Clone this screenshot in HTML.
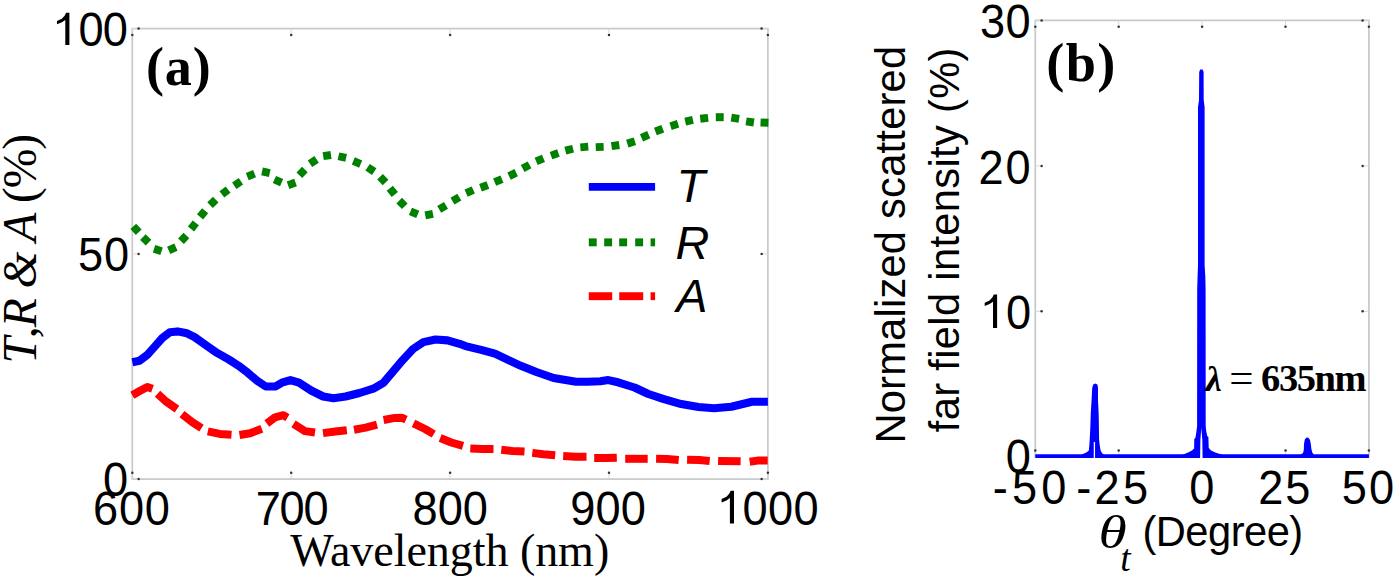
<!DOCTYPE html>
<html><head><meta charset="utf-8"><style>
html,body{margin:0;padding:0;background:#fff;width:1395px;height:579px;overflow:hidden}
svg{display:block}
</style></head><body>
<svg width="1395" height="579" viewBox="0 0 1395 579">
<rect x="132.3" y="28.6" width="635.6" height="450.5" fill="none" stroke="#c8c8c8" stroke-width="1.7"/>
<rect x="1035.3" y="20.4" width="333.6" height="436.4" fill="none" stroke="#c8c8c8" stroke-width="1.7"/>
<path d="M132.3,479.1v-6.3 M132.3,28.6v6.3 M291.2,479.1v-6.3 M291.2,28.6v6.3 M450.1,479.1v-6.3 M450.1,28.6v6.3 M609.0,479.1v-6.3 M609.0,28.6v6.3 M767.9,479.1v-6.3 M767.9,28.6v6.3 M132.3,479.1h6.3 M767.9,479.1h-6.3 M132.3,253.9h6.3 M767.9,253.9h-6.3 M132.3,28.6h6.3 M767.9,28.6h-6.3 M1035.3,456.8v-6.3 M1035.3,20.4v6.3 M1118.7,456.8v-6.3 M1118.7,20.4v6.3 M1202.1,456.8v-6.3 M1202.1,20.4v6.3 M1285.5,456.8v-6.3 M1285.5,20.4v6.3 M1368.9,456.8v-6.3 M1368.9,20.4v6.3 M1035.3,456.8h6.3 M1368.9,456.8h-6.3 M1035.3,311.3h6.3 M1368.9,311.3h-6.3 M1035.3,165.9h6.3 M1368.9,165.9h-6.3 M1035.3,20.4h6.3 M1368.9,20.4h-6.3" stroke="#d8d8d8" stroke-width="1" fill="none"/>
<g fill="#333"><circle cx="132.3" cy="472.8" r="1.25"/><circle cx="132.3" cy="34.9" r="1.25"/><circle cx="291.2" cy="472.8" r="1.25"/><circle cx="291.2" cy="34.9" r="1.25"/><circle cx="450.1" cy="472.8" r="1.25"/><circle cx="450.1" cy="34.9" r="1.25"/><circle cx="609.0" cy="472.8" r="1.25"/><circle cx="609.0" cy="34.9" r="1.25"/><circle cx="767.9" cy="472.8" r="1.25"/><circle cx="767.9" cy="34.9" r="1.25"/><circle cx="138.6" cy="479.1" r="1.25"/><circle cx="761.6" cy="479.1" r="1.25"/><circle cx="138.6" cy="253.9" r="1.25"/><circle cx="761.6" cy="253.9" r="1.25"/><circle cx="138.6" cy="28.6" r="1.25"/><circle cx="761.6" cy="28.6" r="1.25"/><circle cx="1035.3" cy="450.5" r="1.25"/><circle cx="1035.3" cy="26.7" r="1.25"/><circle cx="1118.7" cy="450.5" r="1.25"/><circle cx="1118.7" cy="26.7" r="1.25"/><circle cx="1202.1" cy="450.5" r="1.25"/><circle cx="1202.1" cy="26.7" r="1.25"/><circle cx="1285.5" cy="450.5" r="1.25"/><circle cx="1285.5" cy="26.7" r="1.25"/><circle cx="1368.9" cy="450.5" r="1.25"/><circle cx="1368.9" cy="26.7" r="1.25"/><circle cx="1041.6" cy="456.8" r="1.25"/><circle cx="1362.6" cy="456.8" r="1.25"/><circle cx="1041.6" cy="311.3" r="1.25"/><circle cx="1362.6" cy="311.3" r="1.25"/><circle cx="1041.6" cy="165.9" r="1.25"/><circle cx="1362.6" cy="165.9" r="1.25"/><circle cx="1041.6" cy="20.4" r="1.25"/><circle cx="1362.6" cy="20.4" r="1.25"/></g>
<polyline points="132.3,362.2 139.5,360.8 147.1,355.1 154.7,346.6 162.3,338.0 169.9,332.3 177.5,331.4 187.0,333.3 194.6,337.1 206.0,345.3 215.5,351.9 228.8,359.5 238.3,365.6 247.8,372.8 257.3,380.8 265.8,386.5 275.3,386.5 281.9,382.7 290.4,380.1 299.0,382.7 311.1,390.5 323.2,396.5 333.5,398.2 345.6,396.5 359.5,393.0 373.3,388.7 383.6,382.7 392.3,372.3 402.6,360.2 413.0,349.0 423.4,342.1 435.5,339.5 447.6,340.4 459.6,343.8 465.5,346.1 481.1,349.9 494.9,353.7 507.0,359.4 520.8,365.8 536.4,372.0 553.6,378.0 564.0,379.7 576.1,381.8 588.2,381.8 600.3,381.3 608.3,380.1 618.0,382.3 634.5,387.5 648.4,394.0 663.9,399.2 681.2,404.1 698.5,407.0 714.0,408.2 731.3,406.7 752.0,401.8 767.9,401.8" fill="none" stroke="#0000ff" stroke-width="8.1" stroke-linejoin="round"/>
<polyline points="132.3,395.3 139.7,391.0 147.3,386.9 152.5,388.8" fill="none" stroke="#ff0000" stroke-width="8.0" stroke-linejoin="round"/>
<polyline points="157.5,393.8 165.9,401.4 177.0,409.1" fill="none" stroke="#ff0000" stroke-width="8.0" stroke-linejoin="round"/>
<polyline points="182.0,414.1 192.2,422.1 201.5,428.2" fill="none" stroke="#ff0000" stroke-width="8.0" stroke-linejoin="round"/>
<polyline points="207.8,431.3 219.8,433.9 231.5,434.7" fill="none" stroke="#ff0000" stroke-width="8.0" stroke-linejoin="round"/>
<polyline points="239.5,435.0 250.2,433.2 261.8,428.7" fill="none" stroke="#ff0000" stroke-width="8.0" stroke-linejoin="round"/>
<polyline points="266.8,423.5 275.1,417.3 283.4,415.2 287.5,417.6" fill="none" stroke="#ff0000" stroke-width="8.0" stroke-linejoin="round"/>
<polyline points="293.5,423.9 304.9,431.1 315.0,432.5" fill="none" stroke="#ff0000" stroke-width="8.0" stroke-linejoin="round"/>
<polyline points="323.0,433.1 335.3,431.5 346.8,430.3" fill="none" stroke="#ff0000" stroke-width="8.0" stroke-linejoin="round"/>
<polyline points="354.0,429.7 365.6,427.6 377.0,424.6" fill="none" stroke="#ff0000" stroke-width="8.0" stroke-linejoin="round"/>
<polyline points="383.6,420.0 394.7,417.9 401.6,417.7 406.0,419.7" fill="none" stroke="#ff0000" stroke-width="8.0" stroke-linejoin="round"/>
<polyline points="413.5,423.3 425.0,429.0 433.8,434.1" fill="none" stroke="#ff0000" stroke-width="8.0" stroke-linejoin="round"/>
<polyline points="440.2,438.0 451.3,442.5 463.0,445.9" fill="none" stroke="#ff0000" stroke-width="8.0" stroke-linejoin="round"/>
<polyline points="470.3,448.4 482.6,449.0 493.5,449.0" fill="none" stroke="#ff0000" stroke-width="8.0" stroke-linejoin="round"/>
<polyline points="501.3,449.7 512.3,450.9 524.5,451.6" fill="none" stroke="#ff0000" stroke-width="8.0" stroke-linejoin="round"/>
<polyline points="532.3,452.9 543.2,454.2 555.2,455.2" fill="none" stroke="#ff0000" stroke-width="8.0" stroke-linejoin="round"/>
<polyline points="563.2,456.1 575.5,456.8 586.5,456.8" fill="none" stroke="#ff0000" stroke-width="8.0" stroke-linejoin="round"/>
<polyline points="594.2,458.0 605.2,458.0 616.8,457.7" fill="none" stroke="#ff0000" stroke-width="8.0" stroke-linejoin="round"/>
<polyline points="625.2,458.8 647.7,458.8" fill="none" stroke="#ff0000" stroke-width="8.0" stroke-linejoin="round"/>
<polyline points="656.1,458.8 667.1,459.0 678.7,460.0" fill="none" stroke="#ff0000" stroke-width="8.0" stroke-linejoin="round"/>
<polyline points="687.1,459.7 699.4,460.0 709.7,460.9" fill="none" stroke="#ff0000" stroke-width="8.0" stroke-linejoin="round"/>
<polyline points="718.1,460.9 740.6,461.3" fill="none" stroke="#ff0000" stroke-width="8.0" stroke-linejoin="round"/>
<polyline points="749.7,461.8 757.4,460.6 767.7,460.6" fill="none" stroke="#ff0000" stroke-width="8.0" stroke-linejoin="round"/>
<polygon points="136.2,223.7 141.6,229.5 135.8,234.9 130.4,229.1" fill="#008000"/>
<polygon points="145.6,234.3 151.3,239.8 145.8,245.5 140.1,240.0" fill="#008000"/>
<polygon points="155.3,245.0 162.8,247.5 160.3,255.0 152.8,252.5" fill="#008000"/>
<polygon points="167.1,246.8 174.3,243.6 177.5,250.8 170.3,254.0" fill="#008000"/>
<polygon points="178.1,238.6 183.5,232.8 189.3,238.2 183.9,244.0" fill="#008000"/>
<polygon points="187.9,226.6 192.7,220.4 198.9,225.2 194.1,231.4" fill="#008000"/>
<polygon points="197.0,214.3 202.1,208.2 208.2,213.3 203.1,219.4" fill="#008000"/>
<polygon points="207.3,202.3 213.0,196.8 218.5,202.5 212.8,208.0" fill="#008000"/>
<polygon points="219.5,191.3 225.7,186.5 230.5,192.7 224.3,197.5" fill="#008000"/>
<polygon points="232.1,182.4 238.7,178.0 243.1,184.6 236.5,189.0" fill="#008000"/>
<polygon points="245.8,172.9 253.1,170.0 256.0,177.3 248.7,180.2" fill="#008000"/>
<polygon points="262.9,167.5 270.6,169.2 268.9,176.9 261.2,175.2" fill="#008000"/>
<polygon points="276.0,175.9 283.2,179.1 280.0,186.3 272.8,183.1" fill="#008000"/>
<polygon points="286.7,181.4 294.2,178.7 296.9,186.2 289.4,188.9" fill="#008000"/>
<polygon points="296.5,172.4 302.0,166.7 307.7,172.2 302.2,177.9" fill="#008000"/>
<polygon points="307.8,160.5 314.4,156.1 318.8,162.7 312.2,167.1" fill="#008000"/>
<polygon points="322.6,152.3 330.4,151.1 331.6,158.9 323.8,160.1" fill="#008000"/>
<polygon points="339.3,152.4 347.0,154.1 345.3,161.8 337.6,160.1" fill="#008000"/>
<polygon points="354.9,157.3 362.2,160.4 359.1,167.7 351.8,164.6" fill="#008000"/>
<polygon points="369.8,163.9 376.4,168.3 372.0,174.9 365.4,170.5" fill="#008000"/>
<polygon points="382.9,174.0 388.4,179.7 382.7,185.2 377.2,179.5" fill="#008000"/>
<polygon points="392.9,185.7 397.9,191.9 391.7,196.9 386.7,190.7" fill="#008000"/>
<polygon points="402.0,197.8 407.6,203.4 402.0,209.0 396.4,203.4" fill="#008000"/>
<polygon points="412.0,207.7 419.3,210.8 416.2,218.1 408.9,215.0" fill="#008000"/>
<polygon points="424.5,211.6 432.2,210.1 433.7,217.8 426.0,219.3" fill="#008000"/>
<polygon points="437.2,206.0 444.0,202.0 448.0,208.8 441.2,212.8" fill="#008000"/>
<polygon points="450.5,197.7 457.3,193.7 461.3,200.5 454.5,204.5" fill="#008000"/>
<polygon points="464.5,189.6 471.7,186.4 474.9,193.6 467.7,196.8" fill="#008000"/>
<polygon points="479.1,184.1 486.5,181.3 489.3,188.7 481.9,191.5" fill="#008000"/>
<polygon points="493.1,178.5 500.4,175.4 503.5,182.7 496.2,185.8" fill="#008000"/>
<polygon points="507.3,172.6 514.4,169.1 517.9,176.2 510.8,179.7" fill="#008000"/>
<polygon points="520.8,165.1 527.7,161.4 531.4,168.3 524.5,172.0" fill="#008000"/>
<polygon points="534.6,157.8 541.9,154.7 545.0,162.0 537.7,165.1" fill="#008000"/>
<polygon points="549.7,151.9 557.1,149.3 559.7,156.7 552.3,159.3" fill="#008000"/>
<polygon points="564.4,146.8 572.1,144.9 574.0,152.6 566.3,154.5" fill="#008000"/>
<polygon points="580.0,143.4 587.9,142.7 588.6,150.6 580.7,151.3" fill="#008000"/>
<polygon points="595.6,143.2 603.5,142.9 603.8,150.8 595.9,151.1" fill="#008000"/>
<polygon points="610.9,142.3 618.7,141.1 619.9,148.9 612.1,150.1" fill="#008000"/>
<polygon points="626.1,139.8 633.7,137.4 636.1,145.0 628.5,147.4" fill="#008000"/>
<polygon points="639.9,134.2 647.1,131.0 650.3,138.2 643.1,141.4" fill="#008000"/>
<polygon points="654.0,127.8 661.4,125.0 664.2,132.4 656.8,135.2" fill="#008000"/>
<polygon points="669.4,122.4 676.9,120.1 679.2,127.6 671.7,129.9" fill="#008000"/>
<polygon points="684.4,117.8 692.1,116.1 693.8,123.8 686.1,125.5" fill="#008000"/>
<polygon points="699.8,114.8 707.7,113.9 708.6,121.8 700.7,122.7" fill="#008000"/>
<polygon points="715.8,113.2 723.7,113.2 723.7,121.2 715.8,121.2" fill="#008000"/>
<polygon points="731.9,113.8 739.7,115.0 738.5,122.8 730.7,121.6" fill="#008000"/>
<polygon points="746.7,117.4 754.5,118.6 753.3,126.4 745.5,125.2" fill="#008000"/>
<polygon points="760.7,118.5 768.6,118.8 768.3,126.7 760.4,126.4" fill="#008000"/>
<line x1="588.8" y1="186.9" x2="655.1" y2="186.9" stroke="#0000ff" stroke-width="7.9"/>
<rect x="588.8" y="238.4" width="7.9" height="7.9" fill="#008000"/>
<rect x="604.2" y="238.4" width="7.9" height="7.9" fill="#008000"/>
<rect x="619.2" y="238.4" width="7.9" height="7.9" fill="#008000"/>
<rect x="635.2" y="238.4" width="7.9" height="7.9" fill="#008000"/>
<rect x="650.6" y="238.4" width="4.5" height="7.9" fill="#008000"/>
<line x1="588.8" y1="296.2" x2="612.2" y2="296.2" stroke="#ff0000" stroke-width="7.9"/>
<line x1="619.2" y1="296.2" x2="643.2" y2="296.2" stroke="#ff0000" stroke-width="7.9"/>
<line x1="650.6" y1="296.2" x2="655.1" y2="296.2" stroke="#ff0000" stroke-width="7.9"/>
<line x1="1035.3" y1="456.1" x2="1368.9" y2="456.1" stroke="#0000ff" stroke-width="3.6"/>
<path d="M1080.5,456.1 L1083.0,454.0 L1086.7,452.2 L1088.8,450.5 L1089.3,445.7 L1089.7,439.7 L1090.3,428.0 L1090.8,412.6 L1091.6,400.0 L1092.2,388.0 L1093.2,384.6 L1095.3,383.6 L1097.4,384.6 L1098.0,388.0 L1098.0,400.0 L1098.6,412.6 L1098.8,420.0 L1099.1,439.7 L1099.8,445.7 L1100.5,450.0 L1101.6,452.5 L1103.5,454.5 L1105.0,456.1Z M1180.0,456.1 L1185.0,453.7 L1188.1,452.4 L1192.0,450.4 L1194.1,448.6 L1194.3,438.9 L1195.5,437.6 L1196.5,431.0 L1197.1,426.0 L1197.2,290.0 L1197.6,276.0 L1198.0,265.0 L1198.0,107.0 L1199.0,100.0 L1199.2,72.0 L1200.2,69.5 L1202.6,69.5 L1203.6,72.0 L1203.7,100.0 L1204.6,107.0 L1204.6,265.0 L1205.3,276.0 L1205.6,290.0 L1205.7,426.0 L1206.2,431.0 L1207.2,436.0 L1208.4,437.0 L1208.7,447.7 L1210.7,450.3 L1215.3,452.6 L1220.0,454.0 L1226.0,456.1Z M1298.0,456.1 L1300.5,454.8 L1303.0,453.0 L1303.8,450.0 L1304.0,444.0 L1304.8,439.5 L1306.5,437.6 L1308.4,437.8 L1310.0,440.0 L1310.8,444.0 L1311.4,449.0 L1312.3,452.5 L1314.0,454.8 L1316.0,456.1Z" fill="#0000ff"/>
<line x1="1094.4" y1="442" x2="1094.4" y2="458.5" stroke="#fff" stroke-width="1.3"/>
<path d="M1201.3,427.8 L1200.4,440 L1200.1,458.5 L1202.6,458.5 L1202.3,440 Z" fill="#fff"/>
<text transform="translate(126.80,45.90) scale(0.950,1)" font-family='"Liberation Sans", sans-serif' font-size="47.60" font-weight="normal" font-style="normal" text-anchor="end" letter-spacing="-1.08">00</text>
<text transform="translate(129.90,271.10) scale(0.950,1)" font-family='"Liberation Sans", sans-serif' font-size="47.60" font-weight="normal" font-style="normal" text-anchor="end" letter-spacing="0.90">50</text>
<text transform="translate(128.20,496.00) scale(0.950,1)" font-family='"Liberation Sans", sans-serif' font-size="47.60" font-weight="normal" font-style="normal" text-anchor="end">0</text>
<text transform="translate(131.90,524.70) scale(0.950,1)" font-family='"Liberation Sans", sans-serif' font-size="47.60" font-weight="normal" font-style="normal" text-anchor="middle" letter-spacing="0.81">600</text>
<text transform="translate(291.50,524.70) scale(0.950,1)" font-family='"Liberation Sans", sans-serif' font-size="47.60" font-weight="normal" font-style="normal" text-anchor="middle" letter-spacing="-1.44">700</text>
<text transform="translate(450.20,524.70) scale(0.950,1)" font-family='"Liberation Sans", sans-serif' font-size="47.60" font-weight="normal" font-style="normal" text-anchor="middle" letter-spacing="-0.09">800</text>
<text transform="translate(608.10,524.70) scale(0.950,1)" font-family='"Liberation Sans", sans-serif' font-size="47.60" font-weight="normal" font-style="normal" text-anchor="middle" letter-spacing="0.09">900</text>
<text transform="translate(780.70,524.70) scale(0.950,1)" font-family='"Liberation Sans", sans-serif' font-size="47.60" font-weight="normal" font-style="normal" text-anchor="middle" letter-spacing="0.27">000</text>
<text transform="translate(449.70,565.50)" font-family='"Liberation Serif", serif' font-size="46.06" font-weight="normal" font-style="normal" text-anchor="middle" letter-spacing="-0.06">Wavelength (nm)</text>
<text transform="translate(35.70,249.20) rotate(-90)" font-family='"Liberation Serif", serif' font-size="47.58" font-weight="normal" font-style="normal" text-anchor="middle" letter-spacing="-1.08"><tspan font-style="italic">T</tspan>,<tspan font-style="italic">R</tspan> <tspan font-style="italic">&amp;</tspan> <tspan font-style="italic">A</tspan> (%)</text>
<text transform="translate(145.90,84.80)" font-family='"Liberation Serif", serif' font-size="54.13" font-weight="bold" font-style="normal" text-anchor="start" letter-spacing="0.90">(a)</text>
<text transform="translate(676.40,202.30)" font-family='"Liberation Sans", sans-serif' font-size="46.80" font-weight="normal" font-style="italic" text-anchor="start">T</text>
<text transform="translate(675.40,259.40)" font-family='"Liberation Sans", sans-serif' font-size="46.80" font-weight="normal" font-style="italic" text-anchor="start">R</text>
<text transform="translate(676.20,312.00)" font-family='"Liberation Sans", sans-serif' font-size="46.80" font-weight="normal" font-style="italic" text-anchor="start">A</text>
<text transform="translate(1031.20,37.50) scale(0.950,1)" font-family='"Liberation Sans", sans-serif' font-size="47.60" font-weight="normal" font-style="normal" text-anchor="end" letter-spacing="0.54">30</text>
<text transform="translate(1032.50,183.60) scale(0.950,1)" font-family='"Liberation Sans", sans-serif' font-size="47.60" font-weight="normal" font-style="normal" text-anchor="end" letter-spacing="1.98">20</text>
<text transform="translate(1031.10,328.70) scale(0.950,1)" font-family='"Liberation Sans", sans-serif' font-size="47.60" font-weight="normal" font-style="normal" text-anchor="end">0</text>
<text transform="translate(1030.90,472.80) scale(0.950,1)" font-family='"Liberation Sans", sans-serif' font-size="47.60" font-weight="normal" font-style="normal" text-anchor="end">0</text>
<text transform="translate(1031.60,503.80) scale(0.950,1)" font-family='"Liberation Sans", sans-serif' font-size="47.60" font-weight="normal" font-style="normal" text-anchor="middle" letter-spacing="4.32">-50</text>
<text transform="translate(1113.80,503.80) scale(0.950,1)" font-family='"Liberation Sans", sans-serif' font-size="47.60" font-weight="normal" font-style="normal" text-anchor="middle" letter-spacing="3.51">-25</text>
<text transform="translate(1201.70,503.80) scale(0.950,1)" font-family='"Liberation Sans", sans-serif' font-size="47.60" font-weight="normal" font-style="normal" text-anchor="middle">0</text>
<text transform="translate(1285.20,503.80) scale(0.950,1)" font-family='"Liberation Sans", sans-serif' font-size="47.60" font-weight="normal" font-style="normal" text-anchor="middle" letter-spacing="1.98">25</text>
<text transform="translate(1369.00,503.80) scale(0.950,1)" font-family='"Liberation Sans", sans-serif' font-size="47.60" font-weight="normal" font-style="normal" text-anchor="middle" letter-spacing="2.16">50</text>
<text transform="translate(1046.20,80.70)" font-family='"Liberation Serif", serif' font-size="54.33" font-weight="bold" font-style="normal" text-anchor="start" letter-spacing="1.35">(b)</text>
<text transform="translate(1205.60,390.50)" font-family='"Liberation Serif", serif' font-size="36.84" font-weight="bold" font-style="italic" text-anchor="start">λ</text>
<text transform="translate(1229.30,391.80)" font-family='"Liberation Serif", serif' font-size="43.14" font-weight="normal" font-style="normal" text-anchor="start">=</text>
<text transform="translate(1261.10,390.50)" font-family='"Liberation Serif", serif' font-size="38.51" font-weight="bold" font-style="normal" text-anchor="start" letter-spacing="-1.44">635nm</text>
<text transform="translate(905.10,244.60) rotate(-90)" font-family='"Liberation Sans", sans-serif' font-size="41.62" font-weight="normal" font-style="normal" text-anchor="middle" letter-spacing="0.24">Normalized scattered</text>
<text transform="translate(959.10,239.70) rotate(-90)" font-family='"Liberation Sans", sans-serif' font-size="41.62" font-weight="normal" font-style="normal" text-anchor="middle" letter-spacing="0.35">far field intensity (%)</text>
<text transform="translate(1098.60,548.20) scale(1.222,1)" font-family='"Liberation Serif", serif' font-size="47.13" font-weight="normal" font-style="italic" text-anchor="start">θ</text>
<text transform="translate(1120.20,570.60)" font-family='"Liberation Serif", serif' font-size="37.43" font-weight="normal" font-style="italic" text-anchor="start">t</text>
<text transform="translate(1142.40,546.40)" font-family='"Liberation Sans", sans-serif' font-size="41.64" font-weight="normal" font-style="normal" text-anchor="start" letter-spacing="-0.49">(Degree)</text>
<path d="M69.40,12.70 L69.40,45.00 L65.30,45.00 L65.30,19.90 L61.90,22.30 L57.00,24.30 L57.00,20.90 L61.90,18.70 L64.80,15.50 L66.10,12.70Z M734.00,490.80 L734.00,523.50 L729.90,523.50 L729.90,498.00 L726.50,500.40 L721.60,502.40 L721.60,499.00 L726.50,496.80 L729.40,493.60 L730.70,490.80Z M997.10,294.50 L997.10,327.90 L993.00,327.90 L993.00,301.70 L989.60,304.10 L984.70,306.10 L984.70,302.70 L989.60,300.50 L992.50,297.30 L993.80,294.50Z" fill="#000"/>
</svg>
</body></html>
